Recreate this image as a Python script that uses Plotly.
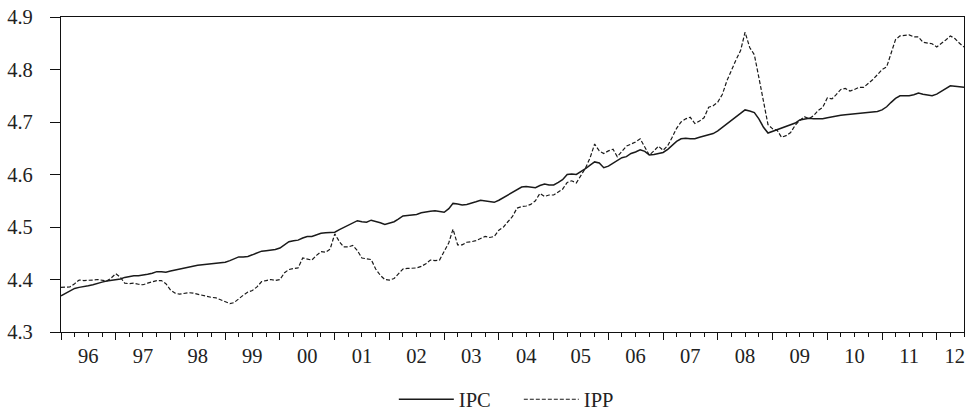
import pandas as pd
import plotly.graph_objects as go

# ---------------- data (monthly, 1996M01 - 2012M07) ----------------
start_month = "1996-01-01"

ipc = [
    # 1996
    4.369, 4.374, 4.379, 4.383, 4.385, 4.386, 4.388, 4.390, 4.393, 4.395, 4.397, 4.398,
    # 1997
    4.399, 4.401, 4.404, 4.406, 4.407, 4.407, 4.408, 4.410, 4.412, 4.415, 4.415, 4.414,
    # 1998
    4.416, 4.418, 4.420, 4.422, 4.424, 4.425, 4.427, 4.428, 4.429, 4.430, 4.430, 4.431,
    # 1999
    4.433, 4.436, 4.440, 4.443, 4.443, 4.444, 4.447, 4.450, 4.454, 4.455, 4.456, 4.457,
    # 2000
    4.460, 4.466, 4.472, 4.474, 4.475, 4.479, 4.482, 4.482, 4.485, 4.488, 4.489, 4.489,
    # 2001
    4.490, 4.495, 4.499, 4.504, 4.508, 4.512, 4.510, 4.509, 4.513, 4.511, 4.508, 4.505,
    # 2002
    4.507, 4.510, 4.515, 4.521, 4.522, 4.523, 4.524, 4.527, 4.529, 4.530, 4.531, 4.529,
    # 2003
    4.528, 4.535, 4.545, 4.544, 4.542, 4.543, 4.545, 4.548, 4.551, 4.550, 4.548, 4.547,
    # 2004
    4.551, 4.556, 4.562, 4.566, 4.572, 4.576, 4.577, 4.576, 4.575, 4.579, 4.582, 4.580,
    # 2005
    4.580, 4.585, 4.590, 4.600, 4.601, 4.600, 4.605, 4.611, 4.618, 4.624, 4.622, 4.613,
    # 2006
    4.616, 4.621, 4.627, 4.632, 4.634, 4.640, 4.643, 4.647, 4.644, 4.637, 4.638, 4.640,
    # 2007
    4.642, 4.648, 4.656, 4.663, 4.668, 4.669, 4.668, 4.668, 4.671, 4.673, 4.675, 4.678,
    # 2008
    4.683, 4.690, 4.696, 4.702, 4.710, 4.717, 4.723, 4.721, 4.718, 4.706, 4.690, 4.679,
    # 2009
    4.682, 4.685, 4.688, 4.691, 4.694, 4.698, 4.704, 4.705, 4.707, 4.706, 4.706, 4.706,
    # 2010
    4.708, 4.710, 4.712, 4.713, 4.714, 4.715, 4.715, 4.716, 4.717, 4.718, 4.719, 4.720,
    # 2011
    4.723, 4.729, 4.737, 4.745, 4.750, 4.750, 4.750, 4.752, 4.755, 4.753, 4.751, 4.750,
    # 2012
    4.753, 4.758, 4.764, 4.769, 4.768, 4.767, 4.766,
]

ipp = [
    # 1996
    4.385, 4.385, 4.386, 4.392, 4.399, 4.398, 4.398, 4.399, 4.400, 4.399, 4.397, 4.403,
    # 1997
    4.411, 4.404, 4.393, 4.392, 4.393, 4.391, 4.390, 4.393, 4.396, 4.398, 4.398, 4.392,
    # 1998
    4.380, 4.374, 4.372, 4.373, 4.375, 4.374, 4.372, 4.370, 4.367, 4.366, 4.365, 4.361,
    # 1999
    4.357, 4.354, 4.356, 4.364, 4.370, 4.376, 4.379, 4.386, 4.396, 4.398, 4.400, 4.398,
    # 2000
    4.400, 4.413, 4.419, 4.421, 4.422, 4.441, 4.439, 4.437, 4.446, 4.453, 4.452, 4.458,
    # 2001
    4.487, 4.472, 4.462, 4.462, 4.465, 4.455, 4.441, 4.440, 4.438, 4.420, 4.408, 4.400,
    # 2002
    4.399, 4.402, 4.410, 4.420, 4.421, 4.421, 4.422, 4.425, 4.430, 4.437, 4.436, 4.437,
    # 2003
    4.455, 4.470, 4.496, 4.466, 4.466, 4.471, 4.472, 4.474, 4.478, 4.482, 4.480, 4.482,
    # 2004
    4.494, 4.500, 4.510, 4.520, 4.536, 4.539, 4.540, 4.543, 4.550, 4.564, 4.558, 4.561,
    # 2005
    4.561, 4.566, 4.572, 4.585, 4.588, 4.584, 4.598, 4.612, 4.632, 4.658, 4.645, 4.640,
    # 2006
    4.645, 4.648, 4.634, 4.645, 4.654, 4.658, 4.662, 4.668, 4.652, 4.637, 4.645, 4.654,
    # 2007
    4.646, 4.655, 4.670, 4.688, 4.700, 4.706, 4.709, 4.697, 4.702, 4.708, 4.728, 4.731,
    # 2008
    4.738, 4.753, 4.778, 4.799, 4.818, 4.836, 4.871, 4.842, 4.828, 4.785, 4.740, 4.695,
    # 2009
    4.687, 4.684, 4.671, 4.674, 4.680, 4.694, 4.703, 4.710, 4.706, 4.712, 4.722, 4.728,
    # 2010
    4.746, 4.744, 4.752, 4.762, 4.764, 4.759, 4.762, 4.766, 4.766, 4.773, 4.781, 4.790,
    # 2011
    4.800, 4.805, 4.830, 4.857, 4.864, 4.865, 4.866, 4.862, 4.862, 4.852, 4.850, 4.849,
    # 2012
    4.843, 4.849, 4.856, 4.864, 4.859, 4.850, 4.843,
]

year_labels = ["96", "97", "98", "99", "00", "01", "02", "03", "04",
               "05", "06", "07", "08", "09", "10", "11", "12"]

series_names = ["IPC", "IPP"]
y_ticks = [4.3, 4.4, 4.5, 4.6, 4.7, 4.8, 4.9]

# ---------------- derived axis helpers ----------------
dates = pd.date_range(start_month, periods=len(ipc), freq="MS")
x_start, x_end = dates[0], dates[-1]
year_starts = pd.date_range(x_start, x_end, freq="YS")
quarter_starts = pd.date_range(x_start, x_end, freq="QS")
label_pos = []
for ys in year_starts:
    mid = ys + pd.DateOffset(months=6)
    if mid > x_end - pd.DateOffset(months=2):
        mid = x_end - pd.DateOffset(months=2)
    label_pos.append(mid)

FONT = "Liberation Serif"
INK = "#222222"
FS = 20.5

fig = go.Figure()
fig.add_trace(go.Scatter(x=dates, y=ipc, mode="lines", name=series_names[0],
                         line=dict(color="#1a1a1a", width=1.5)))
fig.add_trace(go.Scatter(x=dates, y=ipp, mode="lines", name=series_names[1],
                         line=dict(color="#1a1a1a", width=1.2, dash="4px,2px")))
# invisible carrier trace for the label axis
fig.add_trace(go.Scatter(x=dates, y=ipc, mode="lines", xaxis="x2", showlegend=False,
                         hoverinfo="skip", line=dict(width=0), opacity=0))

fig.update_layout(
    width=976, height=410,
    margin=dict(l=61, r=12, t=17, b=78, autoexpand=False),
    paper_bgcolor="white", plot_bgcolor="white",
    font=dict(family=FONT, size=FS, color=INK),
    showlegend=True,
    legend=dict(orientation="h", x=0.507, xanchor="center", y=-0.214, yanchor="middle",
                font=dict(family=FONT, size=FS, color=INK),
                itemwidth=55, entrywidth=55, entrywidthmode="pixels",
                bgcolor="rgba(0,0,0,0)"),
    xaxis=dict(
        type="date", range=[x_start, x_end], automargin=False,
        showgrid=False, zeroline=False,
        showline=True, linecolor="#111111", linewidth=1.3, mirror=True,
        tickmode="array", tickvals=list(year_starts), ticks="outside",
        ticklen=7, tickwidth=1.3, tickcolor="#111111", showticklabels=False,
        minor=dict(tickmode="array", tickvals=list(quarter_starts), ticks="outside",
                   ticklen=4, tickwidth=1.2, tickcolor="#111111", showgrid=False),
    ),
    xaxis2=dict(
        type="date", range=[x_start, x_end], overlaying="x", anchor="y", side="bottom",
        automargin=False, ticklabeloverflow="allow",
        showgrid=False, zeroline=False, showline=False,
        tickmode="array", tickvals=label_pos, ticktext=year_labels, ticks="",
        ticklabelstandoff=9,
        tickfont=dict(family=FONT, size=FS, color=INK),
    ),
    yaxis=dict(
        range=[4.3, 4.9], automargin=False, showgrid=False, zeroline=False,
        showline=True, linecolor="#111111", linewidth=1.3, mirror=True,
        tickmode="array", tickvals=y_ticks, ticktext=[f"{v:.1f}" for v in y_ticks],
        ticks="outside", ticklen=10, tickwidth=1.3, tickcolor="#111111",
        ticklabelstandoff=13, ticklabeloverflow="allow",
        tickfont=dict(family=FONT, size=FS, color=INK),
    ),
)

# remove the default 8px page margin so the figure fills the window exactly
fig.write_html("out.html", config={"displayModeBar": False},
               post_script="document.body.style.margin='0';")
